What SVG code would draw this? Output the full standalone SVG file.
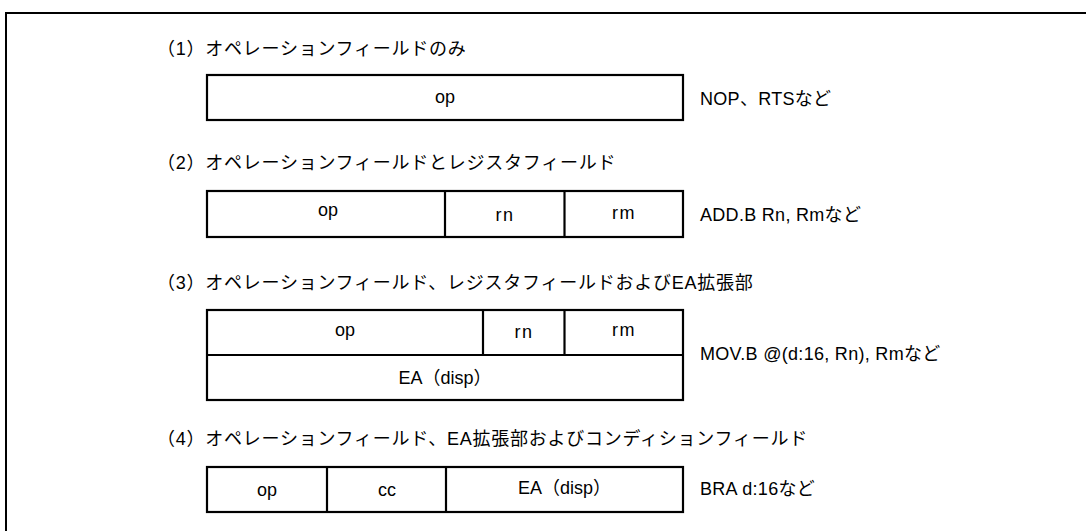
<svg xmlns="http://www.w3.org/2000/svg" width="1086" height="531" viewBox="0 0 1086 531">
  <style>
    text { font-family: "Liberation Sans", "Noto Sans CJK JP", sans-serif; fill: #000; }
    .title { font-size: 18px; letter-spacing: 0.75px; }
    .label { font-size: 18px; letter-spacing: 0.3px; }
    .cell { font-size: 18px; text-anchor: middle; }
    .sp { letter-spacing: 1.5px; }
    .box { fill: #fff; stroke: #000; stroke-width: 2.2; }
    .div { stroke: #000; stroke-width: 2.2; fill: none; }
    .frame { stroke: #000; stroke-width: 2; fill: none; }
  </style>
  <rect x="0" y="0" width="1086" height="531" fill="#fff"/>
  <path class="frame" d="M6,531 V13 H1086"/>

  <g id="format1">
    <text class="title" x="157" y="55">（1）オペレーションフィールドのみ</text>
    <rect class="box" x="207" y="75" width="476" height="45"/>
    <text class="cell" x="445" y="103">op</text>
    <text class="label" x="700" y="105">NOP、RTSなど</text>
  </g>

  <g id="format2">
    <text class="title" x="157" y="169">（2）オペレーションフィールドとレジスタフィールド</text>
    <rect class="box" x="207" y="191" width="476" height="46"/>
    <line class="div" x1="445" y1="191" x2="445" y2="237"/>
    <line class="div" x1="564.5" y1="191" x2="564.5" y2="237"/>
    <text class="cell" x="328" y="216">op</text>
    <text class="cell sp" x="505" y="221">rn</text>
    <text class="cell sp" x="624" y="219">rm</text>
    <text class="label" x="700" y="221">ADD.B Rn, Rmなど</text>
  </g>

  <g id="format3">
    <text class="title" x="157" y="289">（3）オペレーションフィールド、レジスタフィールドおよびEA拡張部</text>
    <rect class="box" x="207" y="310" width="476" height="90"/>
    <line class="div" x1="207" y1="355" x2="683" y2="355"/>
    <line class="div" x1="483" y1="310" x2="483" y2="355"/>
    <line class="div" x1="564.5" y1="310" x2="564.5" y2="355"/>
    <text class="cell" x="345" y="336">op</text>
    <text class="cell sp" x="524" y="338">rn</text>
    <text class="cell sp" x="624" y="336">rm</text>
    <text class="cell" x="445" y="384">EA（disp）</text>
    <text class="label" x="700" y="360">MOV.B @(d:16, Rn), Rmなど</text>
  </g>

  <g id="format4">
    <text class="title" x="157" y="445">（4）オペレーションフィールド、EA拡張部およびコンディションフィールド</text>
    <rect class="box" x="207" y="467" width="476" height="45"/>
    <line class="div" x1="327" y1="467" x2="327" y2="512"/>
    <line class="div" x1="446" y1="467" x2="446" y2="512"/>
    <text class="cell" x="267" y="496">op</text>
    <text class="cell" x="387" y="496">cc</text>
    <text class="cell" x="564.5" y="494">EA（disp）</text>
    <text class="label" x="700" y="495">BRA d:16など</text>
  </g>

  <g id="connectors"></g>
</svg>
